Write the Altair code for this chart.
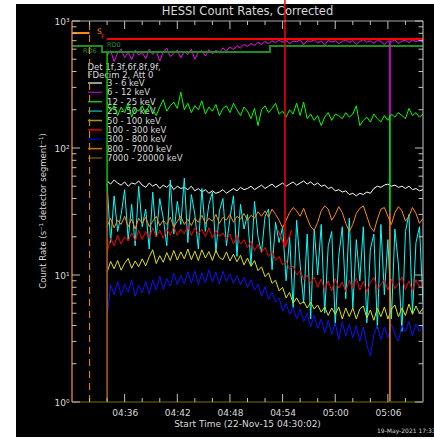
import altair as alt
import pandas as pd

W, H = 351, 381

# x axis: minutes after 04:30:00 UT, 22-Nov-2015
x_domain = [0, 40]
data_start = 4.0      # 04:34:00
bin_min = 0.4         # 24 s bins
n_bins = 91

x_major = [6, 12, 18, 24, 30, 36]
x_minor = [2, 4, 8, 10, 14, 16, 20, 22, 26, 28, 32, 34, 38]
y_major = [1, 10, 100, 1000]
y_minor = [2, 3, 4, 5, 6, 7, 8, 9, 20, 30, 40, 50, 60, 70, 80, 90,
           200, 300, 400, 500, 600, 700, 800, 900]

white_3_6 = [
    55, 52, 56, 53, 51, 54, 50, 53, 52, 55,
    51, 49, 53, 50, 52, 48, 51, 49, 52, 47,
    50, 48, 49, 47, 50, 46, 48, 45, 47, 44,
    46, 44, 45, 47, 44, 46, 48, 46, 49, 47,
    48, 50, 47, 49, 51, 48, 50, 52, 49, 51,
    53, 50, 52, 54, 51, 53, 55, 52, 54, 51,
    53, 50, 51, 48, 49, 46, 47, 45, 46, 43,
    44, 42, 44, 43, 45, 44, 48, 50, 49, 51,
    52, 50, 51, 49, 50, 48, 50, 47, 48, 46,
    47]
magenta_6_12 = [
    530, 585, 480, 560, 600, 515, 570, 495, 590, 540,
    565, 505, 600, 545, 580, 485, 570, 610, 525, 560,
    590, 515, 575, 545, 600, 500, 565, 585, 530, 595,
    550, 590, 560, 615, 580, 625, 595, 640, 610, 655,
    630, 665, 640, 680, 655, 690, 665, 700, 675, 705,
    680, 710, 660, 695, 685, 712, 650, 700, 688, 715,
    670, 698, 645, 705, 682, 700, 662, 692, 710, 676,
    702, 655, 690, 714, 680, 700, 668, 706, 690, 652,
    700, 686, 712, 662, 695, 706, 675, 710, 690, 700,
    688]
green_12_25 = [
    230, 195, 215, 180, 210, 190, 225, 175, 205, 195,
    215, 185, 220, 200, 180, 210, 240, 195, 215, 230,
    205, 275, 200, 225, 190, 215, 200, 235, 185, 210,
    195, 220, 180, 205, 215, 190, 225, 200, 180, 210,
    195, 170, 205, 150, 200, 215, 190, 205, 225, 185,
    195, 175, 200, 185, 225, 180, 230, 170, 185, 165,
    180, 150, 175, 190, 165, 185, 180, 170, 190, 175,
    185, 215, 150, 165, 175, 160, 185, 170, 160, 180,
    165, 185, 175, 190, 180, 170, 205, 180, 190, 175,
    185]
cyan_25_50 = [
    52, 18, 42, 22, 30, 47, 19, 36, 17, 50,
    24, 33, 16, 45, 20, 40, 28, 17, 56, 21,
    38, 25, 58, 18, 43, 30, 16, 48, 22, 36,
    45, 15, 32, 40, 17, 28, 42, 14, 36, 23,
    30, 12, 38, 20, 15, 29, 33, 11, 26, 18,
    24, 9, 20, 5.5, 27, 12, 6, 21, 4.5, 23,
    10, 25, 5, 17, 22, 4, 14, 24, 6.5, 28,
    5.5, 19, 9, 24, 4.2, 16, 21, 3.8, 25, 7,
    19, 4.5, 23, 12, 3.6, 22, 30, 5, 18, 24,
    6]
yellow_50_100 = [
    10.5, 12.8, 11.2, 13.0, 10.9, 12.4, 13.5, 11.3, 12.9, 11.6,
    13.4, 11.8, 13.9, 15.8, 12.3, 14.2, 12.6, 15.0, 13.0, 15.6,
    13.1, 15.2, 13.4, 16.0, 13.2, 15.4, 13.0, 15.8, 13.6, 15.3,
    13.0, 15.6, 13.7, 13.2, 15.2, 12.9, 14.6, 12.7, 14.3, 12.0,
    13.6, 11.7, 13.0, 10.8, 11.6, 9.7, 10.4, 8.6, 9.1, 7.5,
    8.0, 6.6, 7.3, 6.0, 6.6, 5.9, 6.2, 5.5, 6.1, 5.4,
    5.8, 5.1, 5.6, 4.8, 5.5, 4.9, 5.6, 4.5, 5.5, 4.7,
    5.5, 4.5, 5.4, 5.7, 4.6, 5.3, 4.4, 5.5, 4.7, 5.6,
    4.5, 5.4, 5.8, 4.7, 5.5, 4.8, 5.9, 4.9, 5.7, 5.0,
    5.5]
red_100_300 = [
    15, 19.5, 17, 20.5, 17.5, 20, 18.5, 21.5, 18.5, 22.5,
    19, 22, 19.5, 23.5, 20, 22.5, 19.5, 23, 20.5, 24,
    20.5, 23, 21, 24.5, 20.5, 23.5, 21, 23, 20, 23.5,
    19.5, 22.5, 20, 21.5, 19, 21, 17.5, 20.5, 17.5, 19,
    16.5, 18.5, 15.5, 17.5, 15, 16.5, 14, 15.5, 13, 14,
    12, 13, 11, 11.8, 10, 10.8, 9.2, 10, 8.6, 9.6,
    8, 9.3, 7.6, 9, 7.5, 9.4, 7.9, 8.8, 7.4, 9.1,
    7.8, 9.5, 7.6, 8.9, 7.3, 8.7, 9.6, 7.7, 8.4, 9.2,
    7.6, 9.3, 7.8, 8.6, 9.7, 7.7, 9.0, 7.5, 9.2, 8.0,
    8.7]
blue_300_800 = [
    4.6, 8.4, 7.0, 8.9, 6.9, 8.5, 7.3, 9.2, 6.8, 8.3,
    7.2, 8.9, 7.1, 9.1, 7.6, 9.8, 7.7, 9.4, 8.2, 10.3,
    8.4, 9.9, 8.5, 10.6, 8.6, 10.8, 8.4, 10.4, 8.7, 11.0,
    8.8, 10.5, 8.5, 10.7, 8.9, 10.2, 8.6, 9.9, 8.4, 9.6,
    8.0, 9.2, 7.6, 8.5, 6.8, 8.1, 6.4, 7.3, 6.1, 6.6,
    5.2, 6.0, 4.9, 5.6, 4.5, 5.4, 4.3, 5.0, 3.9, 4.8,
    3.8, 4.5, 3.5, 4.4, 3.4, 4.2, 3.1, 4.3, 3.3, 4.1,
    3.2, 4.0, 3.0, 3.9, 2.8, 2.3, 3.4, 4.0, 3.1, 3.9,
    3.2, 4.1, 3.4, 3.0, 4.0, 3.6, 4.3, 3.3, 4.1, 3.6,
    4.0]
orange_800_7000 = [
    24, 28, 23.5, 27, 25, 29, 24, 27.5, 23, 28,
    25.5, 28.5, 24, 26.5, 29, 24.5, 27, 25, 28.5, 24,
    26.5, 29, 25, 27.5, 24.5, 28, 26, 29.5, 25.5, 28,
    26.5, 30, 25.5, 28.5, 27, 30, 26, 29, 27.5, 30.5,
    27, 29.5, 28, 31.5, 29, 32, 28.5, 33, 30, 27,
    23.5, 27, 31, 34, 32, 29, 33.5, 28, 24, 22.5,
    26, 32, 35, 33, 27, 30, 34.5, 31, 25.5, 22,
    25, 30.5, 33.5, 35, 29, 24, 22, 27.5, 33, 34,
    29, 25, 31, 34.5, 32, 26.5, 29, 34, 30.5, 25.5,
    28]

band_names = ["3 - 6 keV", "6 - 12 keV", "12 - 25 keV", "25 - 50 keV",
              "50 - 100 keV", "100 - 300 keV", "300 - 800 keV",
              "800 - 7000 keV", "7000 - 20000 keV"]
band_values = [white_3_6, magenta_6_12, green_12_25, cyan_25_50,
               yellow_50_100, red_100_300, blue_300_800, orange_800_7000]
band_colors = ["#ffffff", "#ff00ff", "#00ff00", "#00ffff",
               "#e1e100", "#ff0000", "#1010ff", "#ff8c10"]
legend_colors = ["#cccccc", "#a000b4", "#00c800", "#00a0a0", "#a0a000",
                 "#e00000", "#0000a0", "#d07000", "#605000"]
legend_header = ["Det 1f,3f,6f,8f,9f,", "FDecim 2, Att 0"]

# flags / markers
sf_flag_t = [0.0, 2.0]
sf_flag_v = 804
red_flag_t = [4.0, 40.0]
red_flag_v = 721
rd_step_t = [0.0, 3.42, 22.56, 40.0]
rd_step_v = [636, 570, 636, 636]
dashed_t = 2.0
start_t = 4.0
start_green = [570, 45]
start_brown = [45, 1]
flare_t = 24.27
flare_tip = 16.6
flare_arrow_center = 19.4
gap_t = 36.23
gap_segments = [(684, 182, "#ff00ff"), (182, 31, "#00ff00"), (31, 1, "#ff8c10")]

FONT = "DejaVu Sans"
TXT = "#d8d8d8"

xs = alt.Scale(domain=x_domain, nice=False, zero=False)
ys = alt.Scale(type="log", domain=[1, 1000], nice=False)
x_axis = alt.Axis(
    values=x_major, domain=False, ticks=False, grid=False, title=None,
    labelExpr="timeFormat(datetime(2015, 10, 22, 4, 30 + datum.value, 0), '%H:%M')",
    labelFont=FONT, labelFontSize=9, labelColor=TXT, labelPadding=6,
    labelFlush=False, labelOverlap=False, zindex=2)
y_axis = alt.Axis(
    values=y_major, domain=False, ticks=False, grid=False, title=None,
    labelExpr="datum.value == 1 ? '10⁰' : datum.value == 10 ? '10¹' : datum.value == 100 ? '10²' : '10³'",
    labelFont=FONT, labelFontSize=9, labelColor=TXT, labelPadding=3,
    labelOverlap=False, labelFlush=False, zindex=2)

X = lambda f: alt.X(f, type="quantitative", scale=xs, axis=x_axis)
Y = lambda f: alt.Y(f, type="quantitative", scale=ys, axis=y_axis)

one = pd.DataFrame({"a": [0]})
times = [data_start + bin_min * i for i in range(n_bins)]

layers = []
# black page
layers.append(alt.Chart(one).mark_rect(color="black").encode(
    x=alt.value(-56), x2=alt.value(362), y=alt.value(-17), y2=alt.value(416)))


def txt(s, x, y, size, color, align="left", angle=None):
    kw = dict(text=s, fontSize=size, color=color, font=FONT, align=align,
              baseline="middle")
    if angle is not None:
        kw["angle"] = angle
    return alt.Chart(one).mark_text(**kw).encode(x=alt.value(x), y=alt.value(y))


# legend (drawn under data)
layers.append(txt(legend_header[0], 15.5, 45.5, 8.5, TXT))
layers.append(txt(legend_header[1], 15.5, 53.5, 8.5, TXT))
for k, (nm, c) in enumerate(zip(band_names, legend_colors)):
    yy = 62 + 9.375 * k
    layers.append(alt.Chart(one).mark_rule(color=c, strokeWidth=1.5).encode(
        x=alt.value(16), x2=alt.value(30), y=alt.value(yy)))
    layers.append(txt(nm, 35, yy, 8.5, TXT))

# data
for nm, vals, c in zip(band_names, band_values, band_colors):
    df = pd.DataFrame({"t": times, "v": vals})
    layers.append(alt.Chart(df).mark_line(color=c, strokeWidth=1, clip=True)
                  .encode(x=X("t"), y=Y("v")))

# flag lines
layers.append(alt.Chart(pd.DataFrame({"t": sf_flag_t, "v": [sf_flag_v] * 2}))
              .mark_line(color="#ff8c10", strokeWidth=2).encode(x=X("t"), y=Y("v")))
layers.append(alt.Chart(pd.DataFrame({"t": rd_step_t, "v": rd_step_v}))
              .mark_line(color="#1e8c1e", strokeWidth=2, interpolate="step-after")
              .encode(x=X("t"), y=Y("v")))
layers.append(alt.Chart(pd.DataFrame({"t": red_flag_t, "v": [red_flag_v] * 2}))
              .mark_line(color="#ff0000", strokeWidth=2).encode(x=X("t"), y=Y("v")))
layers.append(txt("S", 25, 11, 7.5, "#ff8c10"))
layers.append(txt("F", 29, 16, 6.5, "#ff2020"))
layers.append(txt("RD0", 35, 23.5, 6.5, "#2a8a2a"))
layers.append(txt("RD6", 11, 30, 6.5, "#2a8a2a"))

# vertical markers
layers.append(alt.Chart(pd.DataFrame({"t": [dashed_t], "v": [1], "v2": [1000]}))
              .mark_rule(color="#d2781e", strokeWidth=1.2, strokeDash=[7, 5])
              .encode(x=X("t"), y=Y("v"), y2="v2"))
layers.append(alt.Chart(pd.DataFrame({"t": [start_t], "v": [start_green[0]], "v2": [start_green[1]]}))
              .mark_rule(color="#00c800", strokeWidth=1.5).encode(x=X("t"), y=Y("v"), y2="v2"))
layers.append(alt.Chart(pd.DataFrame({"t": [start_t], "v": [start_brown[0]], "v2": [start_brown[1]]}))
              .mark_rule(color="#b0601e", strokeWidth=1.5).encode(x=X("t"), y=Y("v"), y2="v2"))
for a, b, c in gap_segments:
    layers.append(alt.Chart(pd.DataFrame({"t": [gap_t], "v": [a], "v2": [b]}))
                  .mark_rule(color=c, strokeWidth=1.5).encode(x=X("t"), y=Y("v"), y2="v2"))
layers.append(alt.Chart(pd.DataFrame({"t": [flare_t], "v": [flare_tip]}))
              .mark_rule(color="#ff0000", strokeWidth=1.5)
              .encode(x=X("t"), y=Y("v"), y2=alt.value(-21)))
layers.append(alt.Chart(pd.DataFrame({"t": [flare_t], "v": [flare_arrow_center]}))
              .mark_point(shape="M-1,-1.2L0,1.2L1,-1.2", filled=False, color="#ff0000",
                          strokeWidth=1.2, size=196, opacity=1)
              .encode(x=X("t"), y=Y("v")))

# axis frame
TICK = "#c0c0c0"
layers.append(alt.Chart(one).mark_rule(color="#a8a8a8").encode(
    x=alt.value(0), x2=alt.value(W), y=alt.value(0)))
layers.append(alt.Chart(one).mark_rule(color="#c8c8c8").encode(
    x=alt.value(W), y=alt.value(0), y2=alt.value(H)))
layers.append(alt.Chart(one).mark_rule(color="#4b4b00", strokeWidth=1.5).encode(
    x=alt.value(0), x2=alt.value(W), y=alt.value(H)))
layers.append(alt.Chart(one).mark_rule(color="#d2781e", strokeWidth=1.5).encode(
    x=alt.value(0), y=alt.value(0), y2=alt.value(H)))

for vals, ln in [(x_major, 8), (x_minor, 4)]:
    d = pd.DataFrame({"t": vals})
    layers.append(alt.Chart(d).mark_rule(color=TICK).encode(
        x=X("t"), y=alt.value(0), y2=alt.value(ln)))
    layers.append(alt.Chart(d).mark_rule(color=TICK).encode(
        x=X("t"), y=alt.value(H), y2=alt.value(H - ln)))
for vals, ln in [(y_major, 8), (y_minor, 4.5)]:
    d = pd.DataFrame({"v": vals})
    layers.append(alt.Chart(d).mark_rule(color=TICK).encode(
        y=Y("v"), x=alt.value(0), x2=alt.value(ln)))
    layers.append(alt.Chart(d).mark_rule(color=TICK).encode(
        y=Y("v"), x=alt.value(W), x2=alt.value(W - ln)))

# titles
layers.append(txt("HESSI Count Rates, Corrected", 175.5, -9, 11.5, TXT, "center"))
layers.append(txt("Start Time (22-Nov-15 04:30:02)", 175.5, 403, 9, TXT, "center"))
layers.append(txt("Count Rate (s⁻¹ detector segment⁻¹)", -29, 190, 8.5, TXT, "center", angle=270))
layers.append(txt("19-May-2021 17:33", 305, 410, 6, TXT))

chart = alt.layer(*layers).properties(
    width=W, height=H,
    padding={"left": 72, "top": 21, "right": 11, "bottom": 37},
    autosize=alt.AutoSizeParams(type="none"),
    background="white",
).configure_view(stroke=None)

chart.save("out.html", embed_options={"renderer": "svg", "actions": False})
